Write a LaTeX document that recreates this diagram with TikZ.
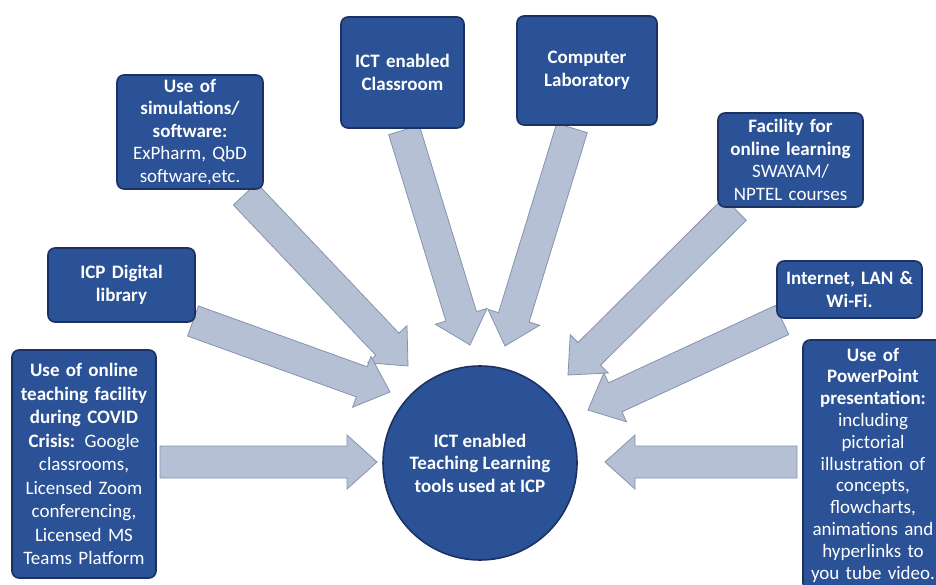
\documentclass[tikz,border=0pt]{standalone}
\usepackage{fontspec}
\setmainfont{Carlito}
\usetikzlibrary{calc}
\definecolor{boxblue}{HTML}{2B5296}
\definecolor{boxedge}{HTML}{1B3162}
\definecolor{arrfill}{HTML}{B5C0D5}
\definecolor{arredge}{HTML}{8593AD}
\tikzset{
  infobox/.style={rectangle, rounded corners=7pt, fill=boxblue, draw=boxedge, line width=1.6pt,
    text=white, align=center, inner sep=0pt, font=\fontsize{19}{22.5}\selectfont},
  hubnode/.style={circle, fill=boxblue, draw=boxedge, line width=1.6pt, text=white, align=center,
    minimum size=194pt, inner sep=0pt, font=\fontsize{19}{22.5}\selectfont\bfseries},
  blockarrow/.style={fill=arrfill, draw=arredge, line width=0.8pt, line join=miter}
}
\newcommand\blockarr[2]{%
  \coordinate (hb) at ($(#2)!30pt!(#1)$);
  \draw[blockarrow] ($(#1)!16pt!90:(#2)$) -- ($(hb)!16pt!-90:(#1)$) -- ($(hb)!27pt!-90:(#1)$)
    -- (#2) -- ($(hb)!27pt!90:(#1)$) -- ($(hb)!16pt!90:(#1)$) -- ($(#1)!16pt!-90:(#2)$) -- cycle;}
\begin{document}
\begin{tikzpicture}[x=1pt, y=-1pt]
\useasboundingbox (0,0) rectangle (936,585);
\fill[white] (0,0) rectangle (936,585);
% arrow end points
\coordinate (s1) at (245,194);  \coordinate (t1) at (408,366);
\coordinate (s2) at (404,130);  \coordinate (t2) at (470,345);
\coordinate (s3) at (572,128);  \coordinate (t3) at (505,346);
\coordinate (s4) at (735,209);  \coordinate (t4) at (568,375);
\coordinate (s5) at (782,320);  \coordinate (t5) at (588,410);
\coordinate (s6) at (797,462);  \coordinate (t6) at (605,462);
\coordinate (s7) at (160,462);  \coordinate (t7) at (377,462);
\coordinate (s8) at (193,321);  \coordinate (t8) at (390,392);
\blockarr{s1}{t1}
\blockarr{s2}{t2}
\blockarr{s3}{t3}
\blockarr{s4}{t4}
\blockarr{s5}{t5}
\blockarr{s6}{t6}
\blockarr{s7}{t7}
\blockarr{s8}{t8}
% boxes
\node[infobox, minimum width=146pt, minimum height=114pt, text width=146pt] (sim) at (190,132)
  {{\bfseries Use of\\simulations/\\software:}\\ExPharm, QbD\\software,etc.};
\node[infobox, minimum width=123pt, minimum height=111pt, text width=123pt] (class) at (402.5,72.5)
  {\bfseries ICT enabled\\Classroom};
\node[infobox, minimum width=140pt, minimum height=109pt, text width=140pt] (comp) at (587,70.5)
  {\bfseries Computer\\Laboratory};
\node[infobox, minimum width=145pt, minimum height=94pt, text width=145pt] (fac) at (790.5,160)
  {{\bfseries Facility for\\online learning}\\SWAYAM/\\NPTEL courses};
\node[infobox, minimum width=145pt, minimum height=57pt, text width=145pt] (net) at (849.5,289.5)
  {\bfseries Internet, LAN \&\\Wi-Fi.};
\node[infobox, minimum width=140pt, minimum height=250pt, text width=136pt, font=\fontsize{19}{21.8}\selectfont] (ppt) at (873,465)
  {{\bfseries Use of\\PowerPoint\\presentation:}\\including\\pictorial\\illustration of\\concepts,\\flowcharts,\\animations and\\hyperlinks to\\you tube video.};
\node[infobox, minimum width=144pt, minimum height=228pt, text width=144pt, font=\fontsize{19}{23.5}\selectfont] (covid) at (84,464)
  {{\bfseries Use of online\\teaching facility\\during COVID\\Crisis:} Google\\classrooms,\\Licensed Zoom\\conferencing,\\Licensed MS\\Teams Platform};
\node[infobox, minimum width=147pt, minimum height=74pt, text width=147pt] (dig) at (121.5,285)
  {\bfseries ICP Digital\\library};
\node[hubnode] (hub) at (480,463) {ICT enabled\\Teaching Learning\\tools used at ICP};
\end{tikzpicture}
\end{document}
